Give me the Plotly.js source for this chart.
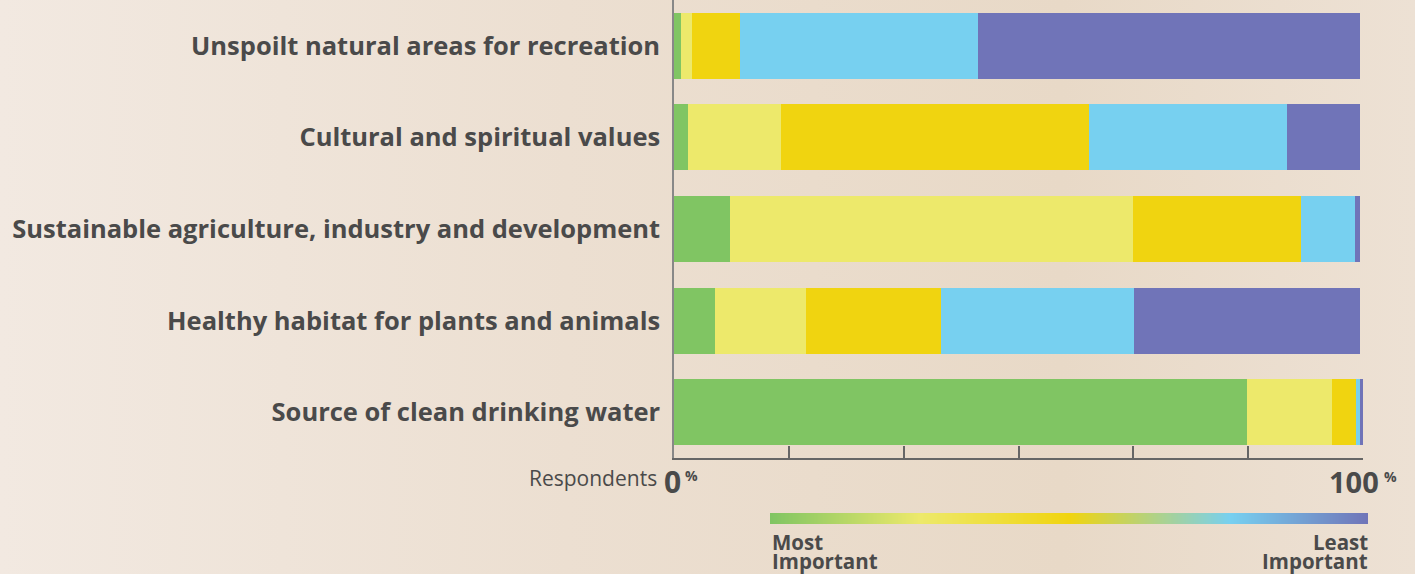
<!DOCTYPE html>
<html>
<head>
<meta charset="utf-8">
<script src="https://cdn.plot.ly/plotly-3.0.1.min.js"></script>
<style>
  html, body { margin: 0; padding: 0; }
  body {
    width: 1415px; height: 574px; overflow: hidden;
    background: linear-gradient(90deg, #f2e9e1 0%, #ecdfd1 40%, #e8d9c7 75%, #ede1d4 100%);
  }
  #chart { width: 1415px; height: 574px; }
</style>
</head>
<body>
<div id="chart"></div>
<script>
// Categories (top to bottom in the picture)
const categories = [
  "Unspoilt natural areas for recreation",
  "Cultural and spiritual values",
  "Sustainable agriculture, industry and development",
  "Healthy habitat for plants and animals",
  "Source of clean drinking water"
];
// Percent of respondents at each importance rank (1 = most important ... 5 = least)
const rank1 = [1.0, 2.0, 8.1, 6.0, 83.2];
const rank2 = [1.6, 13.6, 58.5, 13.1, 12.3];
const rank3 = [7.0, 44.6, 24.4, 19.7, 3.5];
const rank4 = [34.5, 28.7, 7.8, 28.0, 0.6];
const rank5 = [55.4, 10.6, 0.7, 32.8, 0.6];
const rankNames = ["Most important", "2nd", "3rd", "4th", "Least important"];
const rankColors = ["#80c563", "#ede96b", "#f0d410", "#77d0f0", "#7074b8"];
const tickValues = [0, 16.67, 33.33, 50, 66.67, 83.33, 100];
const legendStops = [0, 25, 50, 77, 100];

const series = [rank1, rank2, rank3, rank4, rank5];
const textColor = "#4a4a4a";
const W = 1415, H = 574;
const left = 674, right = 40;
const plotW = W - left - right;
const mainFrac = 689 / plotW;
const mainBottom = (H - 458) / H;
const px = (x) => (x - left) / plotW;   // page pixel -> paper x
const py = (y) => (H - y) / H;          // page pixel -> paper y

const traces = series.map((vals, i) => ({
  type: "bar",
  orientation: "h",
  y: categories,
  x: vals,
  name: rankNames[i],
  marker: { color: rankColors[i], line: { width: 0 } },
  hoverinfo: "name+x",
  xaxis: "x", yaxis: "y"
}));

// Gradient key drawn as a smooth heatmap
const gradX = [];
for (let v = 0; v <= 100; v += 1) gradX.push(v);
traces.push({
  type: "heatmap",
  x: gradX,
  y: [0],
  z: [gradX],
  zmin: 0, zmax: 100,
  zsmooth: "best",
  showscale: false,
  hoverinfo: "skip",
  colorscale: legendStops.map((s, i) => [s / 100, rankColors[i]]),
  xaxis: "x2", yaxis: "y2"
});

const labelFont = "'Open Sans', sans-serif";
const layout = {
  width: W, height: H,
  margin: { l: left, r: right, t: 0, b: 0 },
  paper_bgcolor: "rgba(0,0,0,0)",
  plot_bgcolor: "rgba(0,0,0,0)",
  barmode: "stack",
  bargap: 0.28,
  showlegend: false,
  xaxis: {
    domain: [0, mainFrac],
    range: [0, 100],
    tickvals: tickValues,
    showticklabels: false,
    ticks: "inside",
    ticklen: 12,
    tickwidth: 1.5,
    tickcolor: "#666",
    showgrid: false,
    zeroline: false,
    showline: true,
    linecolor: "#666",
    linewidth: 1.5,
    fixedrange: true
  },
  yaxis: {
    domain: [mainBottom, 1],
    categoryorder: "array",
    categoryarray: categories.slice().reverse(),
    autorange: false,
    range: [-0.5, 4.5],
    showline: true,
    linecolor: "#888",
    linewidth: 1.5,
    ticks: "",
    ticklabelstandoff: 7,
    tickfont: { family: labelFont, size: 25.5, color: textColor, weight: "bold" },
    showgrid: false,
    zeroline: false,
    fixedrange: true
  },
  xaxis2: {
    domain: [px(770), px(1368)],
    range: [0, 100],
    anchor: "y2",
    visible: false,
    fixedrange: true
  },
  yaxis2: {
    domain: [py(524), py(513)],
    range: [-0.5, 0.5],
    anchor: "x2",
    visible: false,
    fixedrange: true
  },
  annotations: [
    {
      xref: "paper", yref: "paper", x: px(659), y: py(478),
      xanchor: "right", yanchor: "middle", showarrow: false,
      text: "Respondents",
      font: { family: labelFont, size: 21, color: textColor }
    },
    {
      xref: "paper", yref: "paper", x: px(672), y: py(481),
      xanchor: "center", yanchor: "middle", showarrow: false,
      text: "0",
      font: { family: labelFont, size: 30, color: textColor, weight: "bold" }
    },
    {
      xref: "paper", yref: "paper", x: px(1381), y: py(481),
      xanchor: "right", yanchor: "middle", showarrow: false,
      text: "100",
      font: { family: labelFont, size: 29, color: textColor, weight: "bold" }
    },
    {
      xref: "paper", yref: "paper", x: px(683), y: py(475),
      xanchor: "left", yanchor: "middle", showarrow: false,
      text: "%",
      font: { family: labelFont, size: 14, color: textColor, weight: "bold" }
    },
    {
      xref: "paper", yref: "paper", x: px(1382), y: py(476),
      xanchor: "left", yanchor: "middle", showarrow: false,
      text: "%",
      font: { family: labelFont, size: 14, color: textColor, weight: "bold" }
    },
    {
      xref: "paper", yref: "paper", x: px(770), y: py(542),
      xanchor: "left", yanchor: "middle", showarrow: false,
      text: "Most",
      font: { family: labelFont, size: 20.5, color: textColor, weight: "bold" }
    },
    {
      xref: "paper", yref: "paper", x: px(770), y: py(561),
      xanchor: "left", yanchor: "middle", showarrow: false,
      text: "Important",
      font: { family: labelFont, size: 20.5, color: textColor, weight: "bold" }
    },
    {
      xref: "paper", yref: "paper", x: px(1370), y: py(542),
      xanchor: "right", yanchor: "middle", showarrow: false,
      text: "Least",
      font: { family: labelFont, size: 20.5, color: textColor, weight: "bold" }
    },
    {
      xref: "paper", yref: "paper", x: px(1370), y: py(561),
      xanchor: "right", yanchor: "middle", showarrow: false,
      text: "Important",
      font: { family: labelFont, size: 20.5, color: textColor, weight: "bold" }
    }
  ]
};

Plotly.newPlot("chart", traces, layout, { displayModeBar: false });
</script>
</body>
</html>
